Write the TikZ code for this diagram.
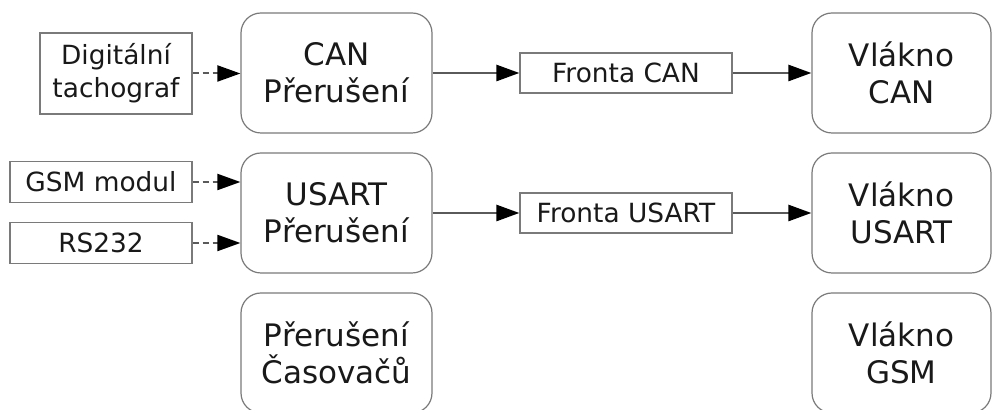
\documentclass[tikz,border=0pt]{standalone}
\usepackage{fontspec}
\setmainfont{DejaVu Sans}
\usepackage{tikz}
\usetikzlibrary{arrows.meta}
\pgfdeclarelayer{nodelayer}
\pgfdeclarelayer{edgelayer}
\pgfsetlayers{edgelayer,nodelayer,main}
\definecolor{linegray}{HTML}{5A5A5A}
\definecolor{boxgray}{HTML}{7A7A7A}
\tikzset{
    task/.style = {draw=boxgray, line width=0.6pt, rounded corners=10pt, fill=white,
        minimum width=95.5pt, minimum height=60pt, inner sep=0pt, align=center,
        font=\fontsize{15.5}{18.5}\selectfont, text=black!90},
    thread/.style = {task, minimum width=89.5pt},
    source/.style = {draw=boxgray, line width=0.6pt, fill=white, inner sep=0pt, align=center,
        font=\fontsize{13.2}{16.5}\selectfont, text=black!90},
    queue/.style = {source, minimum width=106pt, minimum height=20pt},
    flow/.style = {draw=linegray, line width=1.3pt,
        -{Triangle[length=11.5pt,width=8pt,color=black,fill=black]}},
    feed/.style = {flow, line width=1pt, dash pattern=on 3pt off 2pt}
}

\begin{document}
\begin{tikzpicture}[x=0.5pt, y=-0.5pt]
    \useasboundingbox (0, 0) rectangle (993, 410);
    \begin{pgfonlayer}{nodelayer}
        \node [style=source, minimum width=76pt, minimum height=40.5pt] (tacho) at (116, 73.5) {Digitální\\tachograf};
        \node [style=source, minimum width=91pt, minimum height=20.5pt] (gsm) at (101, 182) {GSM modul};
        \node [style=source, minimum width=91pt, minimum height=20.5pt] (rs) at (101, 243) {RS232};
        \node [style=task] (canint) at (336.5, 73) {CAN\\Přerušení};
        \node [style=task] (usartint) at (336.5, 213) {USART\\Přerušení};
        \node [style=task] (timerint) at (336.5, 353) {Přerušení\\Časovačů};
        \node [style=queue] (canq) at (626, 73) {Fronta CAN};
        \node [style=queue] (usartq) at (626, 213) {Fronta USART};
        \node [style=thread] (canth) at (901.5, 73) {Vlákno\\CAN};
        \node [style=thread] (usartth) at (901.5, 213) {Vlákno\\USART};
        \node [style=thread] (gsmth) at (901.5, 353) {Vlákno\\GSM};
    \end{pgfonlayer}
    \begin{pgfonlayer}{edgelayer}
        \draw [style=feed] (tacho.east) to (canint.west |- tacho.east);
        \draw [style=feed] (gsm.east) to (usartint.west |- gsm.east);
        \draw [style=feed] (rs.east) to (usartint.west |- rs.east);
        \draw [style=flow] (canint.east) to (canq.west);
        \draw [style=flow] (canq.east) to (canth.west);
        \draw [style=flow] (usartint.east) to (usartq.west);
        \draw [style=flow] (usartq.east) to (usartth.west);
    \end{pgfonlayer}
\end{tikzpicture}
\end{document}
